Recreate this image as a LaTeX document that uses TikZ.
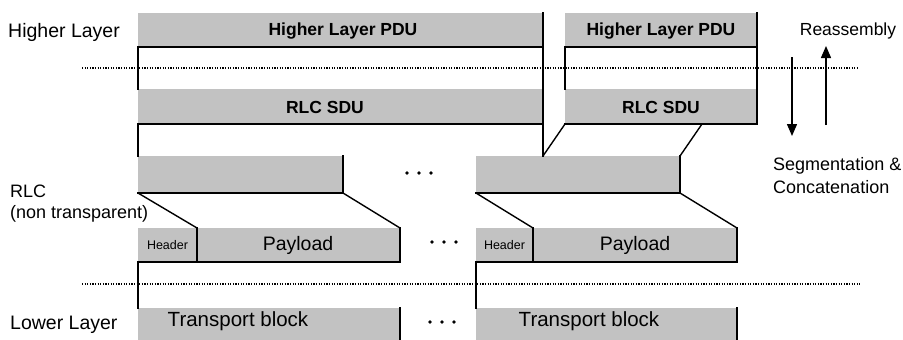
\documentclass[tikz,border=0pt]{standalone}
\usepackage{fontspec}
\setmainfont{Liberation Sans}
\usetikzlibrary{arrows.meta}
\begin{document}
\begin{tikzpicture}[x=1pt,y=-1pt,
  gbox/.style={fill=black!24, draw=none, inner sep=0pt, outer sep=0pt, anchor=north west},
  edge/.style={line width=1.4pt, black, line cap=rect},
  sep/.style={line width=1.2pt, dash pattern=on 1.2pt off 1.4pt},
  lbl/.style={font=\fontsize{18}{18}\selectfont, inner sep=0pt, anchor=west},
  biglbl/.style={lbl, font=\fontsize{19.5}{19.5}\selectfont},
  btxt/.style={font=\fontsize{17.5}{17.5}\selectfont\bfseries, inner sep=0pt},
  arr/.style={line width=1.4pt, -{Triangle[length=12pt,width=10pt]}},
  dotc/.style={circle, fill=black, inner sep=0pt, minimum size=3.6pt}
]
\useasboundingbox (0,0) rectangle (903,340);

% boxes
\node[gbox, minimum width=405pt, minimum height=34pt] (pdu1) at (138,13) {};
\node[gbox, minimum width=192pt, minimum height=34pt] (pdu2) at (565,13) {};
\node[gbox, minimum width=405pt, minimum height=35pt] (sdu1) at (138,89) {};
\node[gbox, minimum width=192pt, minimum height=35pt] (sdu2) at (565,89) {};
\node[gbox, minimum width=205pt, minimum height=37pt] (seg1) at (138,156) {};
\node[gbox, minimum width=204pt, minimum height=37pt] (seg2) at (476,156) {};
\node[gbox, minimum width=59pt, minimum height=34pt] (hdr1) at (138,228) {};
\node[gbox, minimum width=203pt, minimum height=34pt] (pay1) at (197,228) {};
\node[gbox, minimum width=57pt, minimum height=34pt] (hdr2) at (476,228) {};
\node[gbox, minimum width=204pt, minimum height=34pt] (pay2) at (533,228) {};
\node[gbox, minimum width=262pt, minimum height=34pt] (tb1) at (138,308) {};
\node[gbox, minimum width=261pt, minimum height=34pt] (tb2) at (476,308) {};

% box texts
\node[btxt] (t1) at (343,31) {Higher Layer PDU};
\node[btxt] (t2) at (661,31) {Higher Layer PDU};
\node[btxt] (t3) at (325,107) {RLC SDU};
\node[btxt] (t4) at (661,107) {RLC SDU};
\node[inner sep=0pt, font=\fontsize{12.5}{12.5}\selectfont] (t5) at (hdr1.center) {Header};
\node[inner sep=0pt, font=\fontsize{12.5}{12.5}\selectfont] (t6) at (hdr2.center) {Header};
\node[inner sep=0pt, font=\fontsize{19.5}{19.5}\selectfont] (t7) at (298,245) {Payload};
\node[inner sep=0pt, font=\fontsize{19.5}{19.5}\selectfont] (t8) at (635,245) {Payload};
\node[inner sep=0pt, font=\fontsize{20.5}{20.5}\selectfont] (t9) at (238,321) {Transport block};
\node[inner sep=0pt, font=\fontsize{20.5}{20.5}\selectfont] (t10) at (589,321) {Transport block};

% separators
\coordinate (d1l) at (82,68); \coordinate (d1r) at (858,68);
\coordinate (d2l) at (82,284); \coordinate (d2r) at (860,284);
\draw[sep] (d1l) -- (d1r);
\draw[sep] (d2l) -- (d2r);

% left chain
\draw[edge] (pdu1.south west) -- (pdu1.south east);
\draw[edge] (pdu1.north east) -- (pdu1.north east |- seg2.north);
\draw[edge] (pdu1.south west) -- (sdu1.north west);
\draw[edge] (sdu1.south west) -- (sdu1.south east);
\draw[edge] (sdu1.south west) -- (seg1.north west);
\draw[edge] (seg1.north east) -- (seg1.south east) -- (seg1.south west);
\draw[edge] (seg1.south west) -- (hdr1.north east);
\draw[edge] (seg1.south east) -- (pay1.north east);
\draw[edge] (hdr1.north east) -- (hdr1.south east);
\draw[edge] (pay1.north east) -- (pay1.south east) -- (hdr1.south west);
\draw[edge] (hdr1.south west) -- (tb1.north west);
\draw[edge] (tb1.north east) -- (tb1.south east);

% right chain
\coordinate (cut2) at (702,124);
\draw[edge] (pdu2.south west) -- (pdu2.south east);
\draw[edge] (pdu2.north east) -- (sdu2.south east);
\draw[edge] (pdu2.south west) -- (sdu2.north west);
\draw[edge] (sdu2.south west) -- (sdu2.south east);
\draw[edge] (sdu2.south west) -- (pdu1.north east |- seg2.north);
\draw[edge] (cut2) -- (seg2.north east);
\draw[edge] (seg2.north east) -- (seg2.south east) -- (seg2.south west);
\draw[edge] (seg2.south west) -- (hdr2.north east);
\draw[edge] (seg2.south east) -- (pay2.north east);
\draw[edge] (hdr2.north east) -- (hdr2.south east);
\draw[edge] (pay2.north east) -- (pay2.south east) -- (hdr2.south west);
\draw[edge] (hdr2.south west) -- (tb2.north west);
\draw[edge] (tb2.north east) -- (tb2.south east);

% ellipses
\foreach \i/\x/\y in {a/407/173, b/419/173, c/431/173, d/432/242, e/444/242, f/456/242, g/430/322, h/442/322, k/454/322}
  \node[dotc] (dot\i) at (\x,\y) {};

% arrows
\coordinate (a1s) at (792,57); \coordinate (a1e) at (792,136);
\coordinate (a2s) at (826,125); \coordinate (a2e) at (826,46);
\draw[arr] (a1s) -- (a1e);
\draw[arr] (a2s) -- (a2e);

% labels
\node[biglbl] (hl) at (8,32) {Higher Layer};
\node[lbl] (rlc) at (10,191) {RLC};
\node[lbl] (nt) at (10,214) {(non transparent)};
\node[biglbl] (ll) at (10,325) {Lower Layer};
\node[lbl, anchor=center, font=\fontsize{17.5}{17.5}\selectfont] (re) at (848,31) {Reassembly};
\node[lbl] (sg) at (773,166) {Segmentation \&};
\node[lbl] (cc) at (773,187) {Concatenation};
\end{tikzpicture}
\end{document}
